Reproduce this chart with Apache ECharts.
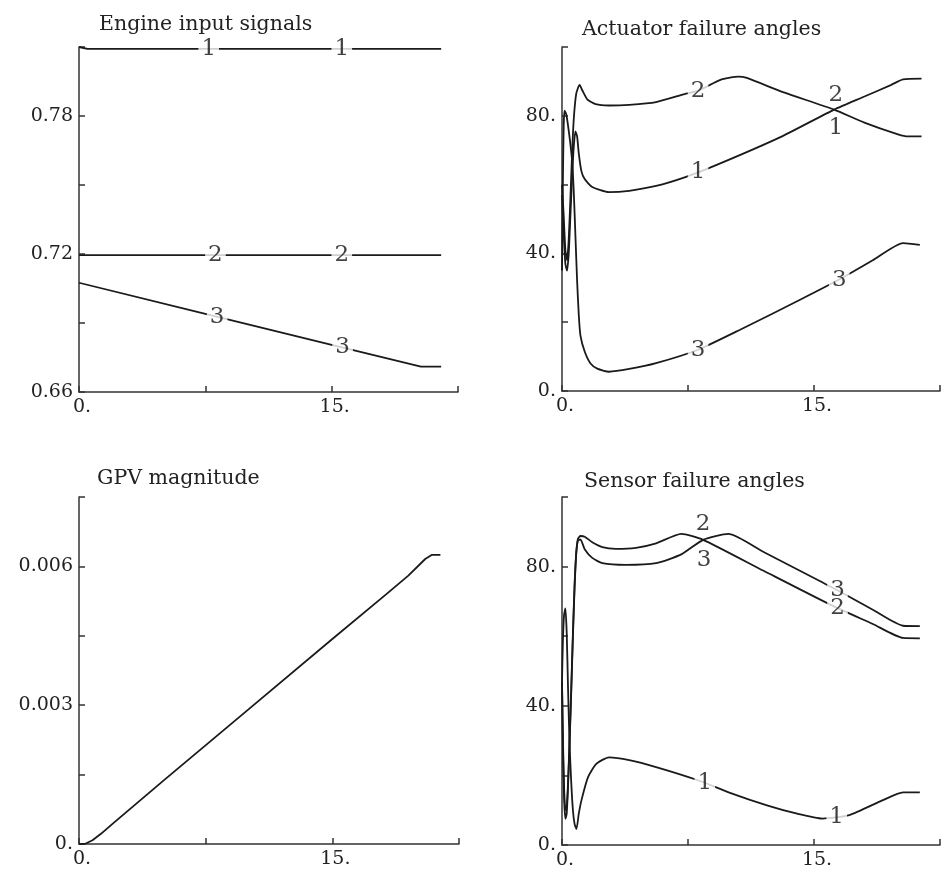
<!DOCTYPE html>
<html>
<head>
<meta charset="utf-8">
<script src="https://cdn.jsdelivr.net/npm/echarts@6/dist/echarts.min.js"></script>
<style>
html,body{margin:0;padding:0;background:#fff;}
#c{width:943px;height:874px;}
</style>
</head>
<body>
<div id="c"></div>
<script>
// ---------- Data ----------
const titles = ['Engine input signals', 'Actuator failure angles', 'GPV magnitude', 'Sensor failure angles'];

// x axis (time) ticks shared by all panels
const xTicks = [0, 7.5, 15, 22.5];
const xTickLabels = ['0.', '', '15.', ''];

// Panel 1: engine input signals
const engine1 = [[0, 0.8100], [0.5, 0.8092], [21.5, 0.8092]];
const engine2 = [[0, 0.7195], [21.5, 0.7195]];
const engine3 = [[0, 0.7075], [7.5, 0.6940], [15, 0.6805], [20.3, 0.6710], [21.5, 0.6710]];
const engineYTicks = [0.66, 0.69, 0.72, 0.75, 0.78, 0.81];
const engineYLabels = ['0.66', '', '0.72', '', '0.78', ''];
const engineLabelSeries = [0, 0, 1, 1, 2, 2];
const engineLabelT = [7.7, 15.6, 8.1, 15.6, 8.2, 15.65];
const engineLabelText = ['1', '1', '2', '2', '3', '3'];

// Panel 2: actuator failure angles
const act1 = [[0, 57], [0.1, 46], [0.2, 37], [0.3, 35], [0.4, 40], [0.5, 51], [0.6, 62], [0.7, 71], [0.8, 75.5], [0.9, 74], [1.0, 69],
  [1.15, 64], [1.35, 61.6], [1.8, 59.3], [2.8, 57.8], [4, 58.2], [5.6, 59.6], [7.3, 62.1], [9.1, 65.5], [13, 73.8], [16.2, 81.8],
  [18, 85.6], [19.6, 89], [20.3, 90.6], [21.4, 90.8]];
const act2 = [[0, 60], [0.1, 51], [0.2, 41], [0.3, 38], [0.4, 44], [0.5, 56], [0.6, 69], [0.7, 79], [0.85, 86.5], [1.05, 89], [1.2, 87.5],
  [1.5, 84.8], [2.0, 83.4], [2.8, 83], [4, 83.2], [5.6, 84], [7.3, 86.3], [8.1, 87.3], [9.5, 90.6], [10.5, 91.4], [11, 91],
  [13.2, 86.8], [16.2, 81.8], [18, 78], [20, 74.6], [20.6, 74], [21.4, 74]];
const act3 = [[0, 35], [0.05, 60], [0.1, 77], [0.15, 81.5], [0.25, 80.5], [0.35, 77.5], [0.47, 73], [0.6, 67], [0.7, 58], [0.8, 45],
  [0.9, 32], [1.0, 22], [1.1, 16], [1.35, 11.5], [1.7, 8], [2.1, 6.5], [2.8, 5.6], [4, 6.4], [5.6, 8.1], [8.1, 12], [10.6, 17.8],
  [14.2, 26.6], [16.5, 32.4], [18.5, 38], [20.3, 43], [21.3, 42.5]];
const angleYTicks = [0, 20, 40, 60, 80, 100];
const angleYLabels = ['0.', '', '40.', '', '80.', ''];
const actLabelSeries = [1, 0, 2, 2, 1, 0];
const actLabelT = [8.1, 8.1, 8.1, 16.5, 16.3, 16.3];
const actLabelText = ['2', '1', '3', '3', '2', '1'];
const actLabelDy = [0, 0, 0, 0, -15, 19];

// Panel 3: GPV magnitude
const gpv = [[0, 0], [0.4, 0.00001], [0.8, 0.00008], [1.3, 0.00022], [2, 0.00044], [5, 0.00137], [10, 0.0029], [15, 0.00443],
  [18.2, 0.0054], [19.5, 0.0058], [20.5, 0.00616], [20.9, 0.00625], [21.4, 0.00625]];
const gpvYTicks = [0, 0.0015, 0.003, 0.0045, 0.006, 0.0075];
const gpvYLabels = ['0.', '', '0.003', '', '0.006', ''];

// Panel 4: sensor failure angles
const sen1 = [[0, 47], [0.05, 58], [0.12, 66], [0.2, 68], [0.28, 61], [0.36, 45], [0.45, 29], [0.55, 18], [0.65, 10], [0.75, 6],
  [0.86, 4.6], [1.0, 9], [1.16, 12.9], [1.55, 19.5], [2.04, 23.3], [2.8, 25.2], [4, 24.4], [5.6, 22.4], [8.1, 18.6], [10, 15],
  [12.2, 11.4], [14, 9], [15.5, 7.6], [17.1, 8.6], [19.1, 12.9], [20.3, 15.1], [21.3, 15.1]];
const sen2 = [[0, 47], [0.05, 30], [0.12, 14], [0.2, 7.5], [0.28, 9], [0.36, 17], [0.45, 29], [0.55, 44], [0.65, 60], [0.75, 74],
  [0.85, 84], [0.95, 88], [1.1, 88.8], [1.35, 88.6], [1.8, 87], [2.4, 85.6], [3.2, 85.1], [4.4, 85.4], [5.6, 86.7], [7.1, 89.4],
  [8.4, 87.7], [12, 78.8], [16, 69], [18.5, 63.5], [20.3, 59.5], [21.3, 59.4]];
const sen3 = [[0, 47], [0.05, 32], [0.12, 17], [0.2, 10], [0.28, 11], [0.36, 18], [0.45, 30], [0.55, 45], [0.65, 61], [0.75, 75],
  [0.85, 84], [0.95, 87.5], [1.1, 87.8], [1.35, 85], [1.8, 82.5], [2.4, 81], [3.8, 80.5], [5.6, 81], [7.1, 83.5], [8.4, 87.7],
  [9.9, 89.4], [12, 84.2], [15.4, 75.7], [16.4, 73.2], [18.5, 67.6], [20.3, 63], [21.3, 62.9]];
const senLabelSeries = [0, 0, 2, 1, 1, 2];
const senLabelT = [8.5, 16.35, 16.4, 16.4, 8.4, 8.45];
const senLabelText = ['1', '1', '3', '2', '2', '3'];
const senLabelDy = [0, 0, 0, 0, -16, 20];

// ---------- Styling ----------
const FONT = 'DejaVu Serif';
const INK = '#1a1a1a';
const grids = [
  { left: 79, top: 47, width: 379, height: 345 },
  { left: 562, top: 47, width: 382, height: 344 },
  { left: 79, top: 497, width: 380, height: 347 },
  { left: 562, top: 497, width: 382, height: 348 }
];
const titlePos = [[99, 14], [582, 19], [97, 468], [584, 471]];
const yCfg = [
  { min: 0.66, max: 0.81, interval: 0.03, ticks: engineYTicks, labels: engineYLabels },
  { min: 0, max: 100, interval: 20, ticks: angleYTicks, labels: angleYLabels },
  { min: 0, max: 0.0075, interval: 0.0015, ticks: gpvYTicks, labels: gpvYLabels },
  { min: 0, max: 100, interval: 20, ticks: angleYTicks, labels: angleYLabels }
];
const smoothing = [false, 0.2, false, 0.2];

function pickLabel(ticks, labels, v) {
  let best = 0, bd = Infinity;
  ticks.forEach((t, i) => { const d = Math.abs(t - v); if (d < bd) { bd = d; best = i; } });
  return labels[best];
}
function interp(data, t) {
  for (let i = 0; i < data.length - 1; i++) {
    const a = data[i], b = data[i + 1];
    if (t >= a[0] && t <= b[0]) return a[1] + (b[1] - a[1]) * (t - a[0]) / (b[0] - a[0]);
  }
  return data[data.length - 1][1];
}

const axisLineStyle = { color: '#333', width: 1.5 };
const xAxes = grids.map((g, i) => ({
  type: 'value', gridIndex: i, min: 0, max: 22.5, interval: 7.5,
  axisLine: { show: true, onZero: false, lineStyle: axisLineStyle },
  axisTick: { show: true, inside: true, length: 6, lineStyle: axisLineStyle },
  axisLabel: { show: true, margin: 6, fontFamily: FONT, fontSize: 19, color: '#222', padding: [0, 0, 0, 6],
    formatter: v => pickLabel(xTicks, xTickLabels, v) },
  splitLine: { show: false }
}));
const yAxes = grids.map((g, i) => ({
  type: 'value', gridIndex: i, min: yCfg[i].min, max: yCfg[i].max, interval: yCfg[i].interval,
  axisLine: { show: true, onZero: false, lineStyle: axisLineStyle },
  axisTick: { show: true, inside: true, length: 6, lineStyle: axisLineStyle },
  axisLabel: { show: true, margin: 6, fontFamily: FONT, fontSize: 19, color: '#222',
    formatter: v => pickLabel(yCfg[i].ticks, yCfg[i].labels, v) },
  splitLine: { show: false }
}));

const panelSeries = [
  [engine1, engine2, engine3],
  [act1, act2, act3],
  [gpv],
  [sen1, sen2, sen3]
];
const panelLabels = [
  { s: engineLabelSeries, t: engineLabelT, text: engineLabelText, dy: null },
  { s: actLabelSeries, t: actLabelT, text: actLabelText, dy: actLabelDy },
  null,
  { s: senLabelSeries, t: senLabelT, text: senLabelText, dy: senLabelDy }
];

const series = [];
panelSeries.forEach((list, gi) => {
  list.forEach(d => {
    series.push({
      type: 'line', xAxisIndex: gi, yAxisIndex: gi, data: d, showSymbol: false, symbol: 'none',
      smooth: smoothing[gi],
      lineStyle: { color: INK, width: 1.8 }, z: 2, silent: true
    });
  });
  const L = panelLabels[gi];
  if (L) {
    const items = L.t.map((t, k) => ({
      value: [t, interp(list[L.s[k]], t)],
      name: L.text[k],
      label: { offset: [0, L.dy ? L.dy[k] : 0] }
    }));
    series.push({
      type: 'scatter', xAxisIndex: gi, yAxisIndex: gi, data: items, symbolSize: 0, z: 5, silent: true,
      label: {
        show: true, position: 'inside', formatter: p => p.name,
        fontFamily: FONT, fontSize: 23, color: '#111', backgroundColor: '#fff',
        padding: [0, 3], lineHeight: 16
      }
    });
  }
});

const chart = echarts.init(document.getElementById('c'), null, { renderer: 'canvas' });
chart.setOption({
  animation: false,
  backgroundColor: '#fff',
  title: titles.map((t, i) => ({
    text: t, left: titlePos[i][0], top: titlePos[i][1], padding: 0,
    textStyle: { fontFamily: FONT, fontSize: 20.5, fontWeight: 'normal', color: '#222' }
  })),
  grid: grids.map(g => Object.assign({ containLabel: false }, g)),
  xAxis: xAxes,
  yAxis: yAxes,
  series: series
});
</script>
</body>
</html>
